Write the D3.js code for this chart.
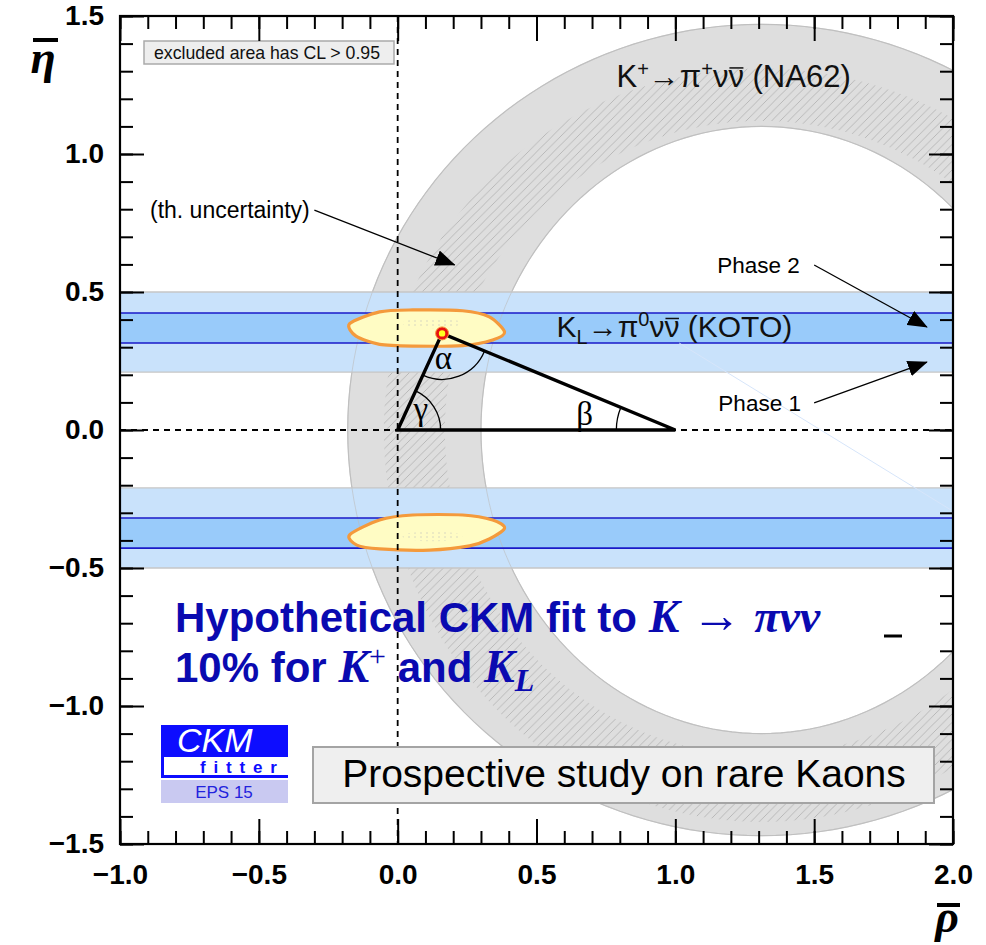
<!DOCTYPE html>
<html><head><meta charset="utf-8">
<script src="https://cdn.jsdelivr.net/npm/d3@7"></script>
<style>
html,body{margin:0;padding:0;background:#fff;}
svg{display:block;}
</style></head><body>
<svg id="chart" width="986" height="945"></svg>
<script>
// ---------------- data ----------------
const xDomain = [-1.0, 2.0];
const yDomain = [-1.5, 1.5];
const xTicksMajor = [-1.0, -0.5, 0.0, 0.5, 1.0, 1.5, 2.0];
const yTicksMajor = [-1.5, -1.0, -0.5, 0.0, 0.5, 1.0, 1.5];
const minorStep = 0.1;

// K+ -> pi+ nu nubar (NA62) annulus (ellipses centred on the rho axis)
const na62Centre = [1.31, 0.0];
const na62Outer = [1.49, 1.47];   // [rx, ry]
const na62Inner = [1.01, 1.10];
// theoretical-uncertainty hatched sub-ring [rx, ry(top), ry(bottom)]
const thOuter = [1.36, 1.31, 1.42];
const thInner = [1.14, 1.12, 1.18];

// KL -> pi0 nu nubar (KOTO) bands [etaLow, etaHigh]
const kotoPhase1 = [[0.21, 0.50], [-0.50, -0.21]];
const kotoPhase2 = [[0.315, 0.424], [-0.428, -0.319]];

// hypothetical fit regions (rho, eta)
const fitUpper = [[-0.173,0.385],[-0.065,0.428],[0.054,0.435],[0.234,0.432],[0.330,0.410],[0.385,0.355],
                  [0.342,0.326],[0.234,0.306],[0.054,0.304],[-0.065,0.310],[-0.150,0.340]];
const fitLower = [[-0.173,-0.380],[-0.065,-0.326],[0.054,-0.308],[0.234,-0.308],[0.342,-0.326],[0.385,-0.355],
                  [0.330,-0.395],[0.259,-0.420],[0.115,-0.435],[-0.065,-0.431],[-0.147,-0.417]];
const apex = [0.16, 0.35];
const unitaryTriangle = [[0, 0], [1, 0], apex];
const faintLine = [[1.014, 0.315], [1.993, -0.29]];

// ---------------- setup ----------------
const svg = d3.select("#chart");
const L = 120, R = 953, T = 16, B = 844;
const x = d3.scaleLinear().domain(xDomain).range([L, R]);
const y = d3.scaleLinear().domain(yDomain).range([B, T]);

const defs = svg.append("defs");
defs.append("clipPath").attr("id", "plotClip")
  .append("rect").attr("x", L).attr("y", T).attr("width", R - L).attr("height", B - T);

const hs = 8.5;
const hatch = defs.append("pattern").attr("id", "hatch")
  .attr("patternUnits", "userSpaceOnUse").attr("width", hs).attr("height", hs);
hatch.append("path").attr("d", `M-2,2 L2,-2 M0,${hs} L${hs},0 M${hs-2},${hs+2} L${hs+2},${hs-2}`)
  .attr("stroke", "#b0b0b0").attr("stroke-width", 0.8);

const dots = defs.append("pattern").attr("id", "dots")
  .attr("patternUnits", "userSpaceOnUse").attr("width", 6).attr("height", 4);
dots.append("circle").attr("cx", 1).attr("cy", 1).attr("r", 0.8).attr("fill", "#d4d4c0");

function ellipsePts(c, rx, ryTop, ryBot) {
  const pts = [];
  for (let i = 0; i < 360; i += 2) {
    const t = i * Math.PI / 180;
    const s = Math.sin(t);
    pts.push([c[0] + rx * Math.cos(t), c[1] + (s >= 0 ? ryTop : ryBot) * s]);
  }
  return pts;
}
function closedPath(pts) {
  return "M" + pts.map(p => x(p[0]).toFixed(2) + "," + y(p[1]).toFixed(2)).join("L") + "Z";
}
const ringPath = closedPath(ellipsePts(na62Centre, na62Outer[0], na62Outer[1], na62Outer[1])) +
                 closedPath(ellipsePts(na62Centre, na62Inner[0], na62Inner[1], na62Inner[1]));
const thPath = closedPath(ellipsePts(na62Centre, thOuter[0], thOuter[1], thOuter[2])) +
               closedPath(ellipsePts(na62Centre, thInner[0], thInner[1], thInner[2]));

defs.append("clipPath").attr("id", "ringClip")
  .append("path").attr("d", ringPath).attr("clip-rule", "evenodd");

const plot = svg.append("g").attr("clip-path", "url(#plotClip)");

// NA62 ring
plot.append("path").attr("d", ringPath).attr("fill", "#dedede").attr("fill-rule", "evenodd")
  .attr("stroke", "#c4c4c4").attr("stroke-width", 1.2);
plot.append("g").attr("clip-path", "url(#ringClip)")
  .append("path").attr("d", thPath).attr("fill", "url(#hatch)").attr("fill-rule", "evenodd");

// KOTO bands
kotoPhase1.forEach(b => {
  plot.append("rect").attr("x", x(xDomain[0])).attr("width", x(xDomain[1]) - x(xDomain[0]))
    .attr("y", y(b[1])).attr("height", y(b[0]) - y(b[1])).attr("fill", "#c9e2fb");
});
kotoPhase2.forEach(b => {
  plot.append("rect").attr("x", x(xDomain[0])).attr("width", x(xDomain[1]) - x(xDomain[0]))
    .attr("y", y(b[1])).attr("height", y(b[0]) - y(b[1])).attr("fill", "#99cbfa");
});
// ring edges faintly through bands
plot.append("path").attr("d", ringPath).attr("fill", "none")
  .attr("stroke", "#bcbcbc").attr("stroke-width", 1).attr("opacity", 0.6);
kotoPhase1.forEach(b => b.forEach(v => {
  plot.append("line").attr("x1", x(xDomain[0])).attr("x2", x(xDomain[1]))
    .attr("y1", y(v)).attr("y2", y(v)).attr("stroke", "#c6c6c6").attr("stroke-width", 1.3);
}));
kotoPhase2.forEach(b => b.forEach(v => {
  plot.append("line").attr("x1", x(xDomain[0])).attr("x2", x(xDomain[1]))
    .attr("y1", y(v)).attr("y2", y(v)).attr("stroke", "#1a1ac8").attr("stroke-width", 1.6);
}));
plot.append("line").attr("x1", x(faintLine[0][0])).attr("y1", y(faintLine[0][1]))
  .attr("x2", x(faintLine[1][0])).attr("y2", y(faintLine[1][1]))
  .attr("stroke", "#d6e5fa").attr("stroke-width", 1);

// fit regions
const lineClosed = d3.line().x(d => x(d[0])).y(d => y(d[1])).curve(d3.curveCardinalClosed.tension(0.2));
[fitUpper, fitLower].forEach(reg => {
  plot.append("path").attr("d", lineClosed(reg)).attr("fill", "#fffcc4")
    .attr("stroke", "#f49a3c").attr("stroke-width", 3.2);
});
[[0.125, 0.387], [0.125, -0.385]].forEach(c => {
  plot.append("ellipse").attr("cx", x(c[0])).attr("cy", y(c[1]))
    .attr("rx", 30).attr("ry", 5).attr("fill", "url(#dots)");
});

// dashed axes
plot.append("line").attr("x1", x(0)).attr("x2", x(0)).attr("y1", T).attr("y2", B)
  .attr("stroke", "#000").attr("stroke-width", 1.8).attr("stroke-dasharray", "6,5");
plot.append("line").attr("x1", L).attr("x2", R).attr("y1", y(0)).attr("y2", y(0))
  .attr("stroke", "#000").attr("stroke-width", 1.8).attr("stroke-dasharray", "6,5");

// unitarity triangle
plot.append("path").attr("d", closedPath(unitaryTriangle)).attr("fill", "none")
  .attr("stroke", "#000").attr("stroke-width", 3.4).attr("stroke-linejoin", "miter");

function arcAt(v, from, to, r, sweep) {
  const cx = x(v[0]), cy = y(v[1]);
  const a1 = Math.atan2(y(from[1]) - cy, x(from[0]) - cx);
  const a2 = Math.atan2(y(to[1]) - cy, x(to[0]) - cx);
  return `M${cx + r * Math.cos(a1)},${cy + r * Math.sin(a1)} A${r},${r} 0 0 ${sweep} ${cx + r * Math.cos(a2)},${cy + r * Math.sin(a2)}`;
}
const arcs = [
  arcAt(unitaryTriangle[0], unitaryTriangle[1], apex, 43, 0),
  arcAt(apex, unitaryTriangle[0], unitaryTriangle[1], 46, 0),
  arcAt(unitaryTriangle[1], unitaryTriangle[0], apex, 59, 1)
];
arcs.forEach(d => plot.append("path").attr("d", d).attr("fill", "none")
  .attr("stroke", "#000").attr("stroke-width", 1.3));

// apex marker
plot.append("circle").attr("cx", x(apex[0])).attr("cy", y(apex[1])).attr("r", 6.5)
  .attr("fill", "#e81010").attr("stroke", "#f49a3c").attr("stroke-width", 1);
plot.append("circle").attr("cx", x(apex[0])).attr("cy", y(apex[1])).attr("r", 3.2).attr("fill", "#ffff20");

// greek labels
const greekFont = "'Liberation Serif', 'DejaVu Serif', serif";
[["α", 0.165, 0.262], ["γ", 0.083, 0.075], ["β", 0.673, 0.058]].forEach(g => {
  plot.append("text").attr("x", x(g[1])).attr("y", y(g[2]))
    .attr("text-anchor", "middle").attr("dominant-baseline", "central")
    .attr("font-family", greekFont).attr("font-size", 33).text(g[0]);
});

// ---------------- annotations ----------------
const sans = "'Liberation Sans', Arial, Helvetica, sans-serif";
defs.append("marker").attr("id", "arrowHead").attr("markerUnits", "userSpaceOnUse")
  .attr("viewBox", "0 0 20 16").attr("refX", 19).attr("refY", 8)
  .attr("markerWidth", 20).attr("markerHeight", 16).attr("orient", "auto")
  .append("path").attr("d", "M0,0 L20,8 L0,16 Z").attr("fill", "#000");

const arrows = [
  [[-0.30, 0.797], [0.205, 0.598]],
  [[1.50, 0.598], [1.906, 0.373]],
  [[1.50, 0.098], [1.906, 0.246]]
];
arrows.forEach(a => {
  svg.append("line").attr("x1", x(a[0][0])).attr("y1", y(a[0][1]))
    .attr("x2", x(a[1][0])).attr("y2", y(a[1][1]))
    .attr("stroke", "#000").attr("stroke-width", 1.3).attr("marker-end", "url(#arrowHead)");
});
[["(th. uncertainty)", -0.892, 0.768, 23], ["Phase 2", 1.151, 0.569, 22.5], ["Phase 1", 1.155, 0.069, 22.5]].forEach(t => {
  svg.append("text").attr("x", x(t[1])).attr("y", y(t[2]))
    .attr("font-family", sans).attr("font-size", t[3]).text(t[0]);
});

// overline helper: draw bar over char index i of a text element
function overlineChar(textSel, i, rise, fs) {
  const node = textSel.node();
  const s = node.getStartPositionOfChar(i), e = node.getEndPositionOfChar(i);
  svg.append("line").attr("x1", s.x + 1).attr("x2", e.x - 0.5)
    .attr("y1", s.y - rise).attr("y2", s.y - rise)
    .attr("stroke", "#111").attr("stroke-width", fs);
}

// process labels
const na62 = svg.append("text").attr("x", x(0.788)).attr("y", y(1.243))
  .attr("font-family", sans).attr("font-size", 31).attr("fill", "#111");
na62.append("tspan").text("K");
na62.append("tspan").attr("font-size", 20).attr("dy", -11).text("+");
na62.append("tspan").attr("dy", 11).text("→π");
na62.append("tspan").attr("font-size", 20).attr("dy", -11).text("+");
na62.append("tspan").attr("dy", 11).text("νν");
na62.append("tspan").text(" (NA62)");
overlineChar(na62, 6, 19, 1.5);

const koto = svg.append("text").attr("x", x(0.572)).attr("y", y(0.337))
  .attr("font-family", sans).attr("font-size", 30).attr("fill", "#111");
koto.append("tspan").text("K");
koto.append("tspan").attr("font-size", 20).attr("dy", 7).text("L");
koto.append("tspan").attr("dy", -7).text("→π");
koto.append("tspan").attr("font-size", 20).attr("dy", -11).text("0");
koto.append("tspan").attr("dy", 11).text("νν");
koto.append("tspan").text(" (KOTO)");
overlineChar(koto, 6, 18.5, 1.5);

// CL box
svg.append("rect").attr("x", 144).attr("y", 41).attr("width", 250).attr("height", 23)
  .attr("fill", "#eeeeee").attr("stroke", "#aaaaaa").attr("stroke-width", 1.5);
svg.append("text").attr("x", 154).attr("y", 59).attr("font-family", sans).attr("font-size", 17.7)
  .attr("fill", "#111").text("excluded area has CL > 0.95");

// big blue title
const blue = "#0a0ab0";
const t1 = svg.append("text").attr("x", 175).attr("y", 632).attr("fill", blue)
  .attr("font-family", sans).attr("font-weight", "bold").attr("font-size", 42);
t1.append("tspan").text("Hypothetical CKM fit to ");
t1.append("tspan").attr("font-family", greekFont).attr("font-style", "italic").attr("font-size", 46).text("K");
t1.append("tspan").attr("font-family", greekFont).attr("font-weight", "normal").attr("font-size", 50).text(" → ");
t1.append("tspan").attr("font-family", greekFont).attr("font-style", "italic").attr("font-size", 46).text("πνν");
svg.append("line").attr("x1", 884).attr("x2", 902).attr("y1", 636).attr("y2", 636)
  .attr("stroke", "#000").attr("stroke-width", 3);

const t2 = svg.append("text").attr("x", 175).attr("y", 682).attr("fill", blue)
  .attr("font-family", sans).attr("font-weight", "bold").attr("font-size", 42);
t2.append("tspan").text("10% for ");
t2.append("tspan").attr("font-family", greekFont).attr("font-style", "italic").attr("font-size", 46).text("K");
t2.append("tspan").attr("font-family", greekFont).attr("font-weight", "normal").attr("font-size", 30).attr("dy", -16).text("+");
t2.append("tspan").attr("dy", 16).text(" and ");
t2.append("tspan").attr("font-family", greekFont).attr("font-style", "italic").attr("font-size", 46).text("K");
t2.append("tspan").attr("font-family", greekFont).attr("font-style", "italic").attr("font-size", 32).attr("dy", 9).text("L");

// CKMfitter logo
svg.append("rect").attr("x", 161).attr("y", 725).attr("width", 127).attr("height", 53).attr("fill", "#0d0dff");
svg.append("rect").attr("x", 164).attr("y", 757).attr("width", 124).attr("height", 18).attr("fill", "#fff");
svg.append("rect").attr("x", 161).attr("y", 780).attr("width", 127).attr("height", 23).attr("fill", "#c9c9f1");
svg.append("text").attr("x", 177).attr("y", 752).attr("fill", "#fff").attr("font-family", sans)
  .attr("font-style", "italic").attr("font-size", 34).text("CKM");
svg.append("text").attr("x", 200).attr("y", 773).attr("fill", "#0d0dff").attr("font-family", sans)
  .attr("font-weight", "bold").attr("font-size", 17).attr("letter-spacing", 7.8).text("fitter");
svg.append("text").attr("x", 224).attr("y", 798).attr("fill", "#2222dd").attr("font-family", sans)
  .attr("text-anchor", "middle").attr("font-size", 17).text("EPS 15");

// prospective box
svg.append("rect").attr("x", 313).attr("y", 747).attr("width", 621).attr("height", 56)
  .attr("fill", "#efefef").attr("stroke", "#a4a4a4").attr("stroke-width", 2);
svg.append("text").attr("x", 624).attr("y", 787).attr("text-anchor", "middle")
  .attr("font-family", sans).attr("font-size", 39).attr("fill", "#000").text("Prospective study on rare Kaons");

// ---------------- axes ----------------
const minorX = d3.range(xDomain[0], xDomain[1] + 1e-9, minorStep).map(v => +v.toFixed(2));
const minorY = d3.range(yDomain[0], yDomain[1] + 1e-9, minorStep).map(v => +v.toFixed(2));
const fmt = d3.format(".1f");

function styleAxis(g) {
  g.select(".domain").remove();
  g.selectAll(".tick line").attr("stroke", "#000").attr("stroke-width", 2);
  g.selectAll(".tick text").attr("font-family", sans).attr("font-weight", "bold")
    .attr("font-size", 28).attr("fill", "#000");
}
svg.append("g").attr("transform", `translate(0,${B})`)
  .call(d3.axisBottom(x).tickValues(minorX).tickSize(-13).tickFormat("")).call(styleAxis);
svg.append("g").attr("transform", `translate(0,${B})`)
  .call(d3.axisBottom(x).tickValues(xTicksMajor).tickSize(-25).tickPadding(20).tickFormat(fmt)).call(styleAxis);
svg.append("g").attr("transform", `translate(0,${T})`)
  .call(d3.axisTop(x).tickValues(minorX).tickSize(-13).tickFormat("")).call(styleAxis);
svg.append("g").attr("transform", `translate(0,${T})`)
  .call(d3.axisTop(x).tickValues(xTicksMajor).tickSize(-25).tickFormat("")).call(styleAxis);
svg.append("g").attr("transform", `translate(${L},0)`)
  .call(d3.axisLeft(y).tickValues(minorY).tickSize(-13).tickFormat("")).call(styleAxis);
svg.append("g").attr("transform", `translate(${L},0)`)
  .call(d3.axisLeft(y).tickValues(yTicksMajor).tickSize(-24).tickPadding(16).tickFormat(fmt)).call(styleAxis);
svg.append("g").attr("transform", `translate(${R},0)`)
  .call(d3.axisRight(y).tickValues(minorY).tickSize(-13).tickFormat("")).call(styleAxis);
svg.append("g").attr("transform", `translate(${R},0)`)
  .call(d3.axisRight(y).tickValues(yTicksMajor).tickSize(-24).tickFormat("")).call(styleAxis);

svg.append("rect").attr("x", L).attr("y", T).attr("width", R - L).attr("height", B - T)
  .attr("fill", "none").attr("stroke", "#000").attr("stroke-width", 2.2);

// axis titles
svg.append("text").attr("x", 43).attr("y", 73).attr("text-anchor", "middle")
  .attr("font-family", greekFont).attr("font-style", "italic").attr("font-weight", "bold")
  .attr("font-size", 46).text("η");
svg.append("line").attr("x1", 33).attr("x2", 58).attr("y1", 40).attr("y2", 40).attr("stroke", "#000").attr("stroke-width", 4);
svg.append("text").attr("x", 947).attr("y", 932).attr("text-anchor", "middle")
  .attr("font-family", greekFont).attr("font-style", "italic").attr("font-weight", "bold")
  .attr("font-size", 46).text("ρ");
svg.append("line").attr("x1", 937).attr("x2", 960).attr("y1", 905).attr("y2", 905).attr("stroke", "#000").attr("stroke-width", 4);
</script>
</body></html>
